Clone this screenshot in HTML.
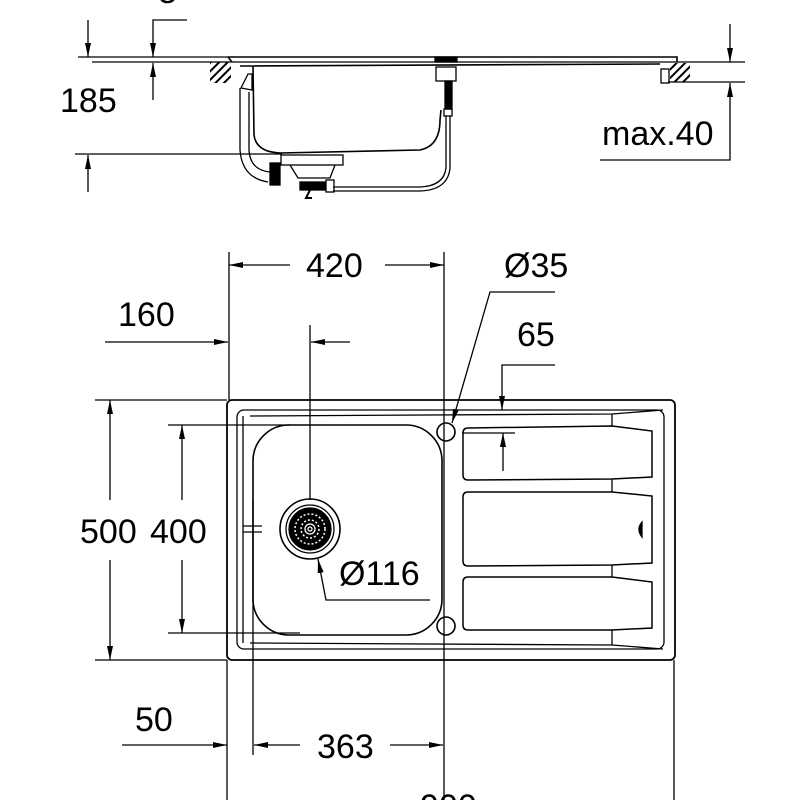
<!DOCTYPE html>
<html><head><style>
html,body{margin:0;padding:0;background:#fff;}
svg{display:block}
text{font-family:"Liberation Sans",sans-serif;fill:#000;}
</style></head><body>
<svg width="800" height="800" viewBox="0 0 800 800" xmlns="http://www.w3.org/2000/svg">
<defs>
<marker id="a" viewBox="0 0 14 6" refX="14" refY="3" markerWidth="14" markerHeight="6" markerUnits="userSpaceOnUse" orient="auto"><path d="M0,0 L14,3 L0,6 Z" fill="#000"/></marker>
<pattern id="h" width="6" height="6" patternUnits="userSpaceOnUse" patternTransform="rotate(45)"><rect width="2" height="6" fill="#000"/></pattern>
</defs>
<g stroke="#000" fill="none" stroke-width="1.3">
<line x1="78" y1="57" x2="228" y2="57"/>
<line x1="92" y1="62" x2="745" y2="62"/>
<line x1="88" y1="20" x2="88" y2="57" marker-end="url(#a)"/>
<polyline points="187,20 153,20 153,57" marker-end="url(#a)"/>
<line x1="153" y1="100" x2="153" y2="63" marker-end="url(#a)"/>
<line x1="75" y1="154" x2="282" y2="154"/>
<line x1="88" y1="192" x2="88" y2="155" marker-end="url(#a)"/>
<path d="M228,57 L677,57 L677,62 M228,57 L232,62 M240,66 L660,64" stroke-width="1.6"/>
<rect x="210" y="62" width="21" height="21" fill="url(#h)" stroke="none"/>
<rect x="670" y="63" width="20" height="19" fill="url(#h)" stroke="none"/>
<rect x="661" y="69" width="8" height="14" fill="#fff"/>
<path d="M253,66 L254,135 Q256,152 280,153 L420,150 Q440,146 440,120 L441,110" stroke-width="1.6"/>
<rect x="281" y="155" width="62" height="10"/>
<path d="M290,165 L298,178 L330,178 L335,165"/>
<rect x="270" y="163" width="10" height="22" fill="#000"/>
<rect x="300" y="182" width="28" height="8" fill="#000"/>
<path d="M310,190 L306,198 L312,198" stroke-width="2"/>
<rect x="326" y="180" width="8" height="12" fill="#fff"/>
<path d="M240,88 L240,150 Q242,178 268,182 M249,92 L249,150 Q250,170 270,172"/>
<path d="M241,88 L248,74 L252,74 L252,90 Z" fill="#fff"/>
<rect x="435" y="57" width="22" height="5" fill="#000"/>
<rect x="436" y="67" width="20" height="14"/>
<rect x="445" y="81" width="7" height="28" fill="#000"/>
<rect x="444" y="109" width="8" height="7"/>
<path d="M446,116 L446,168 Q444,186 420,187 L333,187 M450,116 L450,168 Q448,190 420,191 L333,191"/>
<line x1="668" y1="82" x2="745" y2="82"/>
<line x1="730" y1="24" x2="730" y2="62" marker-end="url(#a)"/>
<polyline points="600,160 730,160 730,83" marker-end="url(#a)"/>

<rect x="227" y="400" width="448" height="260" rx="5" stroke-width="1.8"/>
<rect x="237" y="410" width="427" height="239" rx="7"/>
<path d="M250,416 L612,414 L663,410 M250,643 L612,645 L663,649"/>
<path d="M243,643 L243,416"/>
<rect x="253" y="425" width="189" height="210" rx="36" stroke-width="1.6"/>
<circle cx="310" cy="529" r="30" stroke-width="1.6"/>
<circle cx="310" cy="529" r="24" stroke-width="1.3"/>
<circle cx="310" cy="529" r="21" fill="#000"/>
<circle cx="310" cy="529" r="15" stroke="#fff" stroke-dasharray="2,2" stroke-width="1.5"/>
<circle cx="310" cy="529" r="9" stroke="#fff" stroke-dasharray="2,2" stroke-width="1.5"/>
<circle cx="310" cy="529" r="5" stroke="#fff"/>
<circle cx="310" cy="529" r="2" stroke="#fff"/>
<circle cx="446" cy="432" r="9" stroke-width="1.6"/>
<circle cx="446" cy="626" r="9" stroke-width="1.6"/>
<path d="M468,428 L612,426 L652,431 L652,477 L612,479 L468,480 Q463,480 463,475 L463,433 Q463,428 468,428 Z" stroke-width="1.5"/>
<path d="M468,492 L612,492 L652,496 L652,563 L612,565 L468,566 Q463,566 463,561 L463,497 Q463,492 468,492 Z" stroke-width="1.5"/>
<path d="M468,577 L612,577 L652,582 L652,628 L612,630 L468,630 Q463,630 463,625 L463,582 Q463,577 468,577 Z" stroke-width="1.5"/>
<path d="M612,414 L612,426 M612,479 L612,492 M612,565 L612,577 M612,630 L612,645"/>
<path d="M642,522 Q636,529 642,537 Z" fill="#000"/>
<line x1="229" y1="252" x2="229" y2="400"/>
<line x1="444" y1="252" x2="444" y2="800"/>
<line x1="253" y1="500" x2="253" y2="755"/>
<line x1="227" y1="660" x2="227" y2="800"/>
<line x1="674" y1="660" x2="674" y2="800"/>
<line x1="310" y1="325" x2="310" y2="500"/>
<line x1="243" y1="526" x2="262" y2="526"/><line x1="243" y1="532" x2="262" y2="532"/>
<line x1="290" y1="265" x2="229" y2="265" marker-end="url(#a)"/>
<line x1="385" y1="265" x2="444" y2="265" marker-end="url(#a)"/>
<line x1="105" y1="342" x2="228" y2="342" marker-end="url(#a)"/>
<line x1="350" y1="342" x2="311" y2="342" marker-end="url(#a)"/>
<polyline points="555,292 490,292 452,423" marker-end="url(#a)"/>
<polyline points="555,365 502,365 502,410" marker-end="url(#a)"/>
<line x1="503" y1="471" x2="503" y2="433" marker-end="url(#a)"/>
<line x1="462" y1="433" x2="515" y2="433"/>
<line x1="95" y1="400" x2="227" y2="400"/>
<line x1="95" y1="660" x2="227" y2="660"/>
<line x1="110" y1="500" x2="110" y2="400" marker-end="url(#a)"/>
<line x1="110" y1="560" x2="110" y2="660" marker-end="url(#a)"/>
<line x1="168" y1="425" x2="290" y2="425"/>
<line x1="168" y1="633" x2="300" y2="633"/>
<line x1="182" y1="500" x2="182" y2="425" marker-end="url(#a)"/>
<line x1="182" y1="560" x2="182" y2="633" marker-end="url(#a)"/>
<polyline points="430,600 326,600 318,559" marker-end="url(#a)"/>
<line x1="122" y1="745" x2="227" y2="745" marker-end="url(#a)"/>
<line x1="300" y1="745" x2="254" y2="745" marker-end="url(#a)"/>
<line x1="390" y1="745" x2="443" y2="745" marker-end="url(#a)"/>
</g>
<g font-size="34">
<text x="158" y="3">8</text>
<text x="60" y="112">185</text>
<text x="602" y="145">max.40</text>
<text x="306" y="277">420</text>
<text x="504" y="277">Ø35</text>
<text x="118" y="326">160</text>
<text x="517" y="346">65</text>
<text x="80" y="543">500</text>
<text x="150" y="543">400</text>
<text x="339" y="585">Ø116</text>
<text x="135" y="731">50</text>
<text x="317" y="758">363</text>
<text x="420" y="818">900</text>
</g>
</svg>
</body></html>
